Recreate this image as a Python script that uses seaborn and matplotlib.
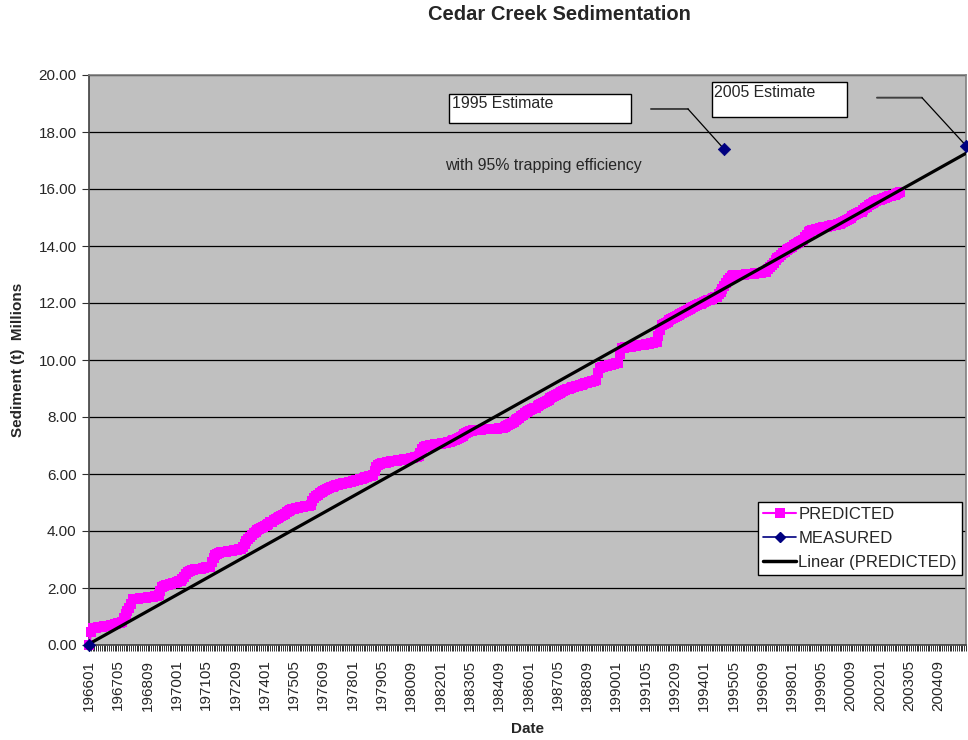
import numpy as np
import pandas as pd
import matplotlib
matplotlib.use("Agg")
import matplotlib.pyplot as plt
import seaborn as sns
from matplotlib.lines import Line2D
from matplotlib.patches import Rectangle

# ---------------- data ----------------
start_year = 1966
n_categories = 480          # monthly categories 196601 .. 200512
label_every = 16
categories = [f"{start_year + i // 12}{i % 12 + 1:02d}" for i in range(n_categories)]

predicted = [
    0.00, 0.45, 0.58,
    0.60, 0.61, 0.62, 0.63, 0.64, 0.65, 0.66, 0.67, 0.68, 0.69, 0.70, 0.72, 0.74, 0.76, 0.78, 0.80,
    0.95, 1.10, 1.20, 1.30, 1.45, 1.60,
    1.62, 1.63, 1.63, 1.64, 1.65, 1.65, 1.66, 1.67, 1.68, 1.69, 1.70, 1.72, 1.73, 1.75,
    1.90, 2.02, 2.08,
    2.10, 2.12, 2.13, 2.15, 2.17, 2.19, 2.21, 2.23, 2.25,
    2.32, 2.40, 2.48, 2.55, 2.60,
    2.62, 2.63, 2.65, 2.66, 2.67, 2.68, 2.69, 2.70, 2.72, 2.73, 2.75,
    2.90, 3.05, 3.15, 3.20, 3.23,
    3.25, 3.26, 3.27, 3.28, 3.29, 3.30, 3.31, 3.32, 3.33, 3.34, 3.36, 3.38,
    3.45, 3.55, 3.65, 3.72, 3.80, 3.86, 3.92,
    3.98, 4.02, 4.06, 4.10, 4.14, 4.18, 4.22, 4.26, 4.30,
    4.33, 4.37, 4.41, 4.45, 4.49, 4.53, 4.57, 4.61, 4.65, 4.70, 4.74,
    4.76, 4.78, 4.80, 4.82, 4.83, 4.84, 4.85, 4.86, 4.87, 4.88, 4.90,
    5.05, 5.15, 5.22, 5.27,
    5.33, 5.38, 5.42, 5.45, 5.48, 5.50, 5.53, 5.56,
    5.58, 5.60, 5.62, 5.64, 5.66, 5.68, 5.69, 5.70, 5.72, 5.73, 5.75, 5.76, 5.78, 5.80, 5.82, 5.84,
    5.86, 5.88, 5.90, 5.92, 5.94, 5.96,
    6.10, 6.25, 6.32,
    6.36, 6.38, 6.39, 6.40, 6.41, 6.42, 6.44, 6.45, 6.46, 6.47, 6.48, 6.49, 6.50, 6.51, 6.52, 6.53,
    6.54, 6.55, 6.57, 6.58, 6.60, 6.62,
    6.75, 6.88, 6.96,
    6.98, 7.00, 7.01, 7.02, 7.03, 7.04, 7.05, 7.06, 7.07, 7.08, 7.09, 7.10, 7.12, 7.14, 7.16, 7.18,
    7.20, 7.23, 7.26,
    7.30, 7.35, 7.40, 7.44, 7.47, 7.50, 7.52, 7.54,
    7.55, 7.55, 7.56, 7.56, 7.57, 7.57, 7.57, 7.58, 7.58, 7.58, 7.59, 7.59, 7.59, 7.60, 7.60, 7.60,
    7.64, 7.68, 7.72, 7.76, 7.80, 7.84, 7.88, 7.92, 7.96,
    8.02, 8.08, 8.13, 8.18, 8.22, 8.25, 8.28, 8.30,
    8.33, 8.37, 8.41, 8.45, 8.49, 8.53, 8.57, 8.61, 8.65, 8.69, 8.73, 8.77, 8.81, 8.85, 8.88, 8.91,
    8.94, 8.97, 9.00,
    9.02, 9.04, 9.06, 9.08, 9.10, 9.12, 9.14, 9.16, 9.18, 9.20, 9.22, 9.24, 9.26, 9.28, 9.30,
    9.55, 9.72,
    9.74, 9.76, 9.78, 9.80, 9.82, 9.84, 9.86, 9.87, 9.88, 9.90,
    10.20, 10.42,
    10.43, 10.44, 10.45, 10.46, 10.47, 10.48, 10.49, 10.50, 10.51, 10.52, 10.53, 10.54, 10.55, 10.56,
    10.57, 10.58, 10.60, 10.62, 10.64,
    10.85, 11.05, 11.23,
    11.27, 11.31, 11.35, 11.39, 11.43, 11.47, 11.51, 11.55, 11.59, 11.62, 11.65, 11.68, 11.71, 11.75,
    11.79, 11.83, 11.87,
    11.89, 11.92, 11.95, 11.97, 12.00, 12.03, 12.06, 12.09, 12.11, 12.14, 12.17, 12.20, 12.22,
    12.30, 12.40, 12.50, 12.60, 12.70, 12.80, 12.88, 12.94,
    12.97, 12.98, 12.98, 12.99, 12.99, 13.00, 13.00, 13.01, 13.01, 13.02, 13.02, 13.03, 13.04, 13.05,
    13.06, 13.07, 13.08, 13.09, 13.10,
    13.18, 13.26, 13.34, 13.42, 13.50, 13.57, 13.63, 13.69, 13.75, 13.80, 13.85, 13.90, 13.94, 13.98,
    14.02, 14.06, 14.10, 14.14, 14.17, 14.20,
    14.30, 14.40, 14.48, 14.53, 14.56,
    14.57, 14.59, 14.60, 14.62, 14.63, 14.65, 14.66, 14.67, 14.69, 14.70, 14.72, 14.73, 14.75, 14.76,
    14.78, 14.80,
    14.84, 14.88, 14.92, 14.96, 15.00, 15.04, 15.08, 15.12, 15.15, 15.18, 15.20,
    15.26, 15.32, 15.38, 15.44, 15.48, 15.52, 15.56,
    15.58, 15.61, 15.63, 15.66, 15.68, 15.70, 15.72, 15.74, 15.76, 15.78, 15.80, 15.83, 15.86, 15.90,
]

measured_dates = ["196601", "199412", "200512"]
measured = [0.00, 17.39, 17.52]

# ---------------- style ----------------
sns.set_theme(style="white")
plt.rcParams["font.family"] = ["Liberation Sans", "DejaVu Sans"]

fig = plt.figure(figsize=(9.68, 7.40), dpi=100)
ax = fig.add_axes([89 / 968, 1 - 645 / 740, 877 / 968, 570 / 740])
ax.set_facecolor("#C0C0C0")

pos = {c: i for i, c in enumerate(categories)}
df_pred = pd.DataFrame({"x": [pos[c] for c in categories[:len(predicted)]], "y": predicted})
df_meas = pd.DataFrame({"x": [pos[d] for d in measured_dates], "y": measured})

# Linear trendline of PREDICTED (intercept fixed at 0, Excel x = 1..n), forecast to end of axis
xx = df_pred["x"].to_numpy() + 1.0
yy = df_pred["y"].to_numpy()
slope = float(np.sum(xx * yy) / np.sum(xx * xx))
trend_x = np.array([0, n_categories - 1])
df_trend = pd.DataFrame({"x": trend_x, "y": slope * (trend_x + 1.0)})

sns.lineplot(data=df_pred, x="x", y="y", ax=ax, color="#FF00FF", marker="s",
             markersize=7.5, markeredgewidth=0, linewidth=2, zorder=3,
             clip_on=False, legend=False)
sns.lineplot(data=df_trend, x="x", y="y", ax=ax, color="black", linewidth=2.3,
             zorder=4, legend=False)
sns.scatterplot(data=df_meas, x="x", y="y", ax=ax, marker="D", color="#000080",
                s=40, edgecolor="#000080", linewidth=0.5, zorder=6,
                clip_on=False, legend=False)

ax.set_xlim(0, n_categories - 1)
ax.set_ylim(0, 20)

# axes / ticks
ax.set_xticks(range(n_categories))
ax.set_xticklabels([c if i % label_every == 0 else "" for i, c in enumerate(categories)],
                   rotation=90, fontsize=11)
ax.set_yticks(np.arange(0, 20.01, 2))
ax.set_yticklabels([f"{v:.2f}" for v in np.arange(0, 20.01, 2)], fontsize=11)
ax.tick_params(axis="x", length=4, width=0.7, color="#303030", pad=6.5, bottom=True)
ax.tick_params(axis="y", length=5, width=0.8, color="#303030", pad=4, left=True)
ax.yaxis.grid(True, color="black", lw=0.9)
ax.xaxis.grid(False)
ax.set_axisbelow(True)
for s in ["left", "bottom"]:
    ax.spines[s].set_color("#404040")
    ax.spines[s].set_linewidth(1.2)
for s in ["top", "right"]:
    ax.spines[s].set_color("#808080")
    ax.spines[s].set_linewidth(1.2)

ax.set_xlabel("Date", fontsize=11, fontweight="bold")
ax.set_ylabel("Sediment (t)  Millions", fontsize=11, fontweight="bold")
ax.xaxis.set_label_coords(0.5, -0.135)
ax.yaxis.set_label_coords(-0.073, 0.5)

fig.text(0.5775, 1 - 15 / 740, "Cedar Creek Sedimentation", ha="center", va="center",
         fontsize=14.5, fontweight="bold")

# annotations (data-label boxes with leader lines)
ax.add_patch(Rectangle((0.4105, 0.9153), 0.2075, 0.0514, transform=ax.transAxes,
                       facecolor="white", edgecolor="black", lw=1, zorder=7))
ax.text(0.414, 0.963, "1995 Estimate", transform=ax.transAxes, ha="left", va="top",
        fontsize=11.4, zorder=8)
ax.annotate("", xy=(0.683, 0.9404), xycoords="axes fraction", xytext=(0.6408, 0.9404),
            textcoords="axes fraction",
            arrowprops=dict(arrowstyle="-", color="#404040", lw=1.4, shrinkA=0, shrinkB=0))
ax.annotate("", xy=(df_meas.x[1], df_meas.y[1]), xycoords="data", xytext=(0.683, 0.9404),
            textcoords="axes fraction",
            arrowprops=dict(arrowstyle="-", color="black", lw=0.9, shrinkA=0, shrinkB=2))

ax.add_patch(Rectangle((0.710, 0.9258), 0.154, 0.0619, transform=ax.transAxes,
                       facecolor="white", edgecolor="black", lw=1, zorder=7))
ax.text(0.713, 0.983, "2005 Estimate", transform=ax.transAxes, ha="left", va="top",
        fontsize=11.4, zorder=8)
ax.annotate("", xy=(0.9498, 0.9602), xycoords="axes fraction", xytext=(0.8985, 0.9602),
            textcoords="axes fraction",
            arrowprops=dict(arrowstyle="-", color="#404040", lw=1.4, shrinkA=0, shrinkB=0))
ax.annotate("", xy=(df_meas.x[2], df_meas.y[2]), xycoords="data", xytext=(0.9498, 0.9602),
            textcoords="axes fraction",
            arrowprops=dict(arrowstyle="-", color="black", lw=0.9, shrinkA=0, shrinkB=2))

ax.text(0.406, 0.842, "with 95% trapping efficiency", transform=ax.transAxes,
        ha="left", va="center", fontsize=11.4, zorder=8)

# legend
handles = [
    Line2D([], [], color="#FF00FF", marker="s", markersize=7, markeredgewidth=0, lw=1.5),
    Line2D([], [], color="#000080", marker="D", markersize=5, lw=1.2),
    Line2D([], [], color="black", lw=2.5),
]
leg = ax.legend(handles, ["PREDICTED", "MEASURED", "Linear (PREDICTED)"],
                loc="upper left", bbox_to_anchor=(0.763, 0.251), borderaxespad=0,
                frameon=True, fancybox=False, edgecolor="black", facecolor="white",
                framealpha=1, fontsize=12, handlelength=2.0, handletextpad=0.1,
                labelspacing=0.55, borderpad=0.3)
leg.get_frame().set_linewidth(1.0)
leg.set_zorder(10)

fig.savefig("out.png", dpi=100)
